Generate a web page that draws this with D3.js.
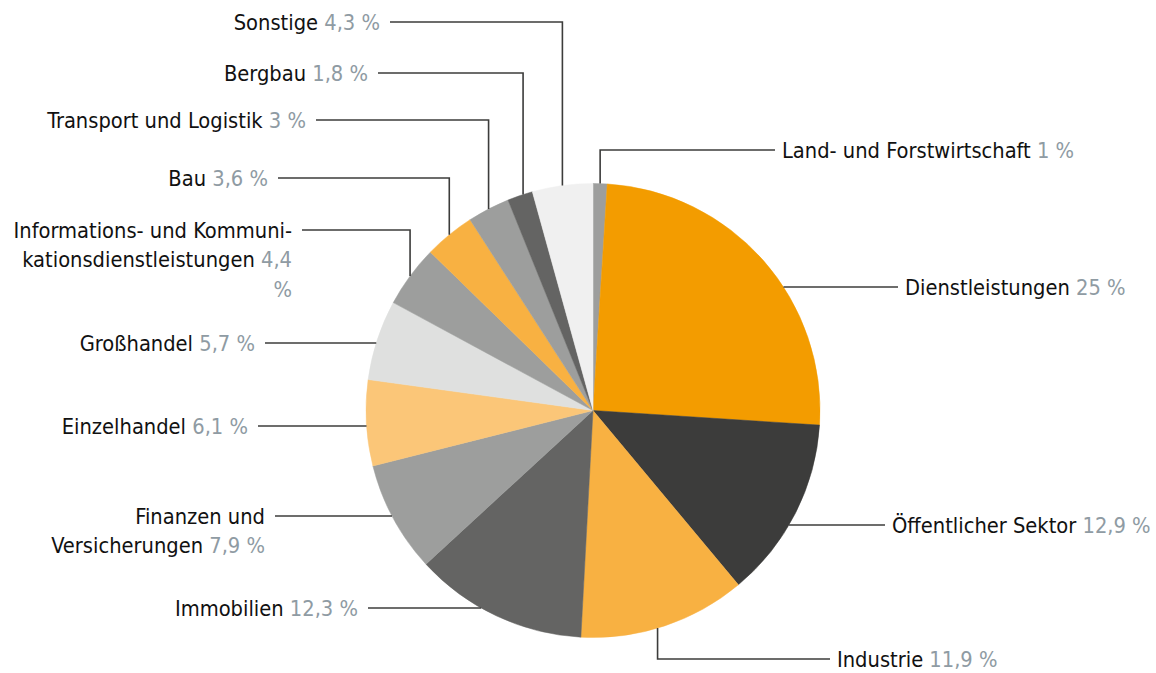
<!DOCTYPE html>
<html><head><meta charset="utf-8">
<script src="https://cdn.jsdelivr.net/npm/d3@7"></script>
<style>
html,body{margin:0;padding:0;background:#fff;}
text{font-family:"DejaVu Sans Condensed","Liberation Sans Narrow",sans-serif;font-size:21.7px;}
</style></head>
<body><svg id="chart" width="1156" height="673"></svg>
<script>
// Data
const categories = ["Land- und Forstwirtschaft","Dienstleistungen","Öffentlicher Sektor","Industrie","Immobilien","Finanzen und Versicherungen","Einzelhandel","Großhandel","Informations- und Kommunikationsdienstleistungen","Bau","Transport und Logistik","Bergbau","Sonstige"];
const values = [1, 25, 12.9, 11.9, 12.3, 7.9, 6.1, 5.7, 4.4, 3.6, 3, 1.8, 4.3];
const colors = ["#9d9e9d","#f39c00","#3c3c3b","#f8b142","#646463","#9d9e9d","#fbc678","#dfe0df","#9d9e9d","#f8b142","#9d9e9d","#646463","#f0f0f0"];
// Label text lines
const labelLines = [
  ["Land- und Forstwirtschaft"],
  ["Dienstleistungen"],
  ["Öffentlicher Sektor"],
  ["Industrie"],
  ["Immobilien"],
  ["Finanzen und","Versicherungen"],
  ["Einzelhandel"],
  ["Großhandel"],
  ["Informations- und Kommuni-","kationsdienstleistungen","__VALUE_SPLIT__"],
  ["Bau"],
  ["Transport und Logistik"],
  ["Bergbau"],
  ["Sonstige"]
];

// Layout (annotation placement)
const layout = [
  {mode:"v", ly:150, lx:775, side:"r"},
  {mode:"h", ly:287, lx:898, side:"r"},
  {mode:"h", ly:525, lx:885, side:"r"},
  {mode:"v", ly:659, lx:830, side:"r", dxLine:-7},
  {mode:"h", ly:608, lx:368, side:"l"},
  {mode:"h", ly:516, lx:275, side:"l"},
  {mode:"h", ly:426, lx:258, side:"l"},
  {mode:"h", ly:343, lx:265, side:"l"},
  {mode:"v", ly:230, lx:302, side:"l"},
  {mode:"v", ly:178, lx:278, side:"l"},
  {mode:"v", ly:120, lx:316, side:"l"},
  {mode:"v", ly:73,  lx:378, side:"l", dxLine:3},
  {mode:"v", ly:22,  lx:390, side:"l"}
];

const locale = d3.formatLocale({decimal:",", thousands:".", grouping:[3], currency:["","€"]});
const fmt = v => locale.format("~g")(v) + " %";

const svg = d3.select("#chart");
const cx = 593, cy = 410.5, R = 227;
const g = svg.append("g").attr("transform",`translate(${cx},${cy})`);

const data = categories.map((c,i)=>({name:c, value:values[i], color:colors[i], lines:labelLines[i], lay:layout[i]}));
const pie = d3.pie().value(d=>d.value).sort(null);
const arc = d3.arc().innerRadius(0).outerRadius(R);
const arcs = pie(data);

g.selectAll("path.slice").data(arcs).join("path")
  .attr("class","slice")
  .attr("d",arc)
  .attr("fill",d=>d.data.color)
  .attr("stroke",d=>d.data.color)
  .attr("stroke-width",0.5);

// Leader lines & labels
const lineG = svg.append("g");
const textG = svg.append("g");
arcs.forEach(a=>{
  const L = a.data.lay;
  const mid = (a.startAngle + a.endAngle)/2;
  let pts;
  if (L.mode === "v") {
    let px = cx + R*Math.sin(mid) + (L.dxLine||0);
    const py = cy - Math.sqrt(R*R - (px-cx)*(px-cx)) * (Math.cos(mid) >= 0 ? 1 : -1);
    pts = [[px,py],[px,L.ly],[L.lx,L.ly]];
  } else {
    const dy = L.ly - cy;
    const dx = Math.sqrt(Math.max(0,R*R - dy*dy));
    const px = L.side === "r" ? cx + dx : cx - dx;
    pts = [[px,L.ly],[L.lx,L.ly]];
  }
  lineG.append("path")
    .attr("d", d3.line()(pts))
    .attr("fill","none").attr("stroke","#3c3c3b").attr("stroke-width",1.6);

  const tx = L.side === "r" ? L.lx + 7 : L.lx - 10;
  const anchor = L.side === "r" ? "start" : "end";
  const lines = a.data.lines;
  const lh = 29.5;
  lines.forEach((ln,k)=>{
    const t = textG.append("text")
      .attr("x",tx).attr("y",L.ly + k*lh).attr("dy","0.35em")
      .attr("text-anchor",anchor);
    if (ln === "__VALUE_SPLIT__") {
      t.append("tspan").attr("fill","#8f9ba3").text("%");
      return;
    }
    t.append("tspan").attr("fill","#111").text(ln);
    const isLast = k === lines.length-1;
    const nextSplit = lines[k+1] === "__VALUE_SPLIT__";
    if (isLast) {
      t.append("tspan").attr("fill","#8f9ba3").text(" " + fmt(a.data.value));
    } else if (nextSplit) {
      t.append("tspan").attr("fill","#8f9ba3").text(" " + locale.format("~g")(a.data.value));
    }
  });
});
</script></body></html>
